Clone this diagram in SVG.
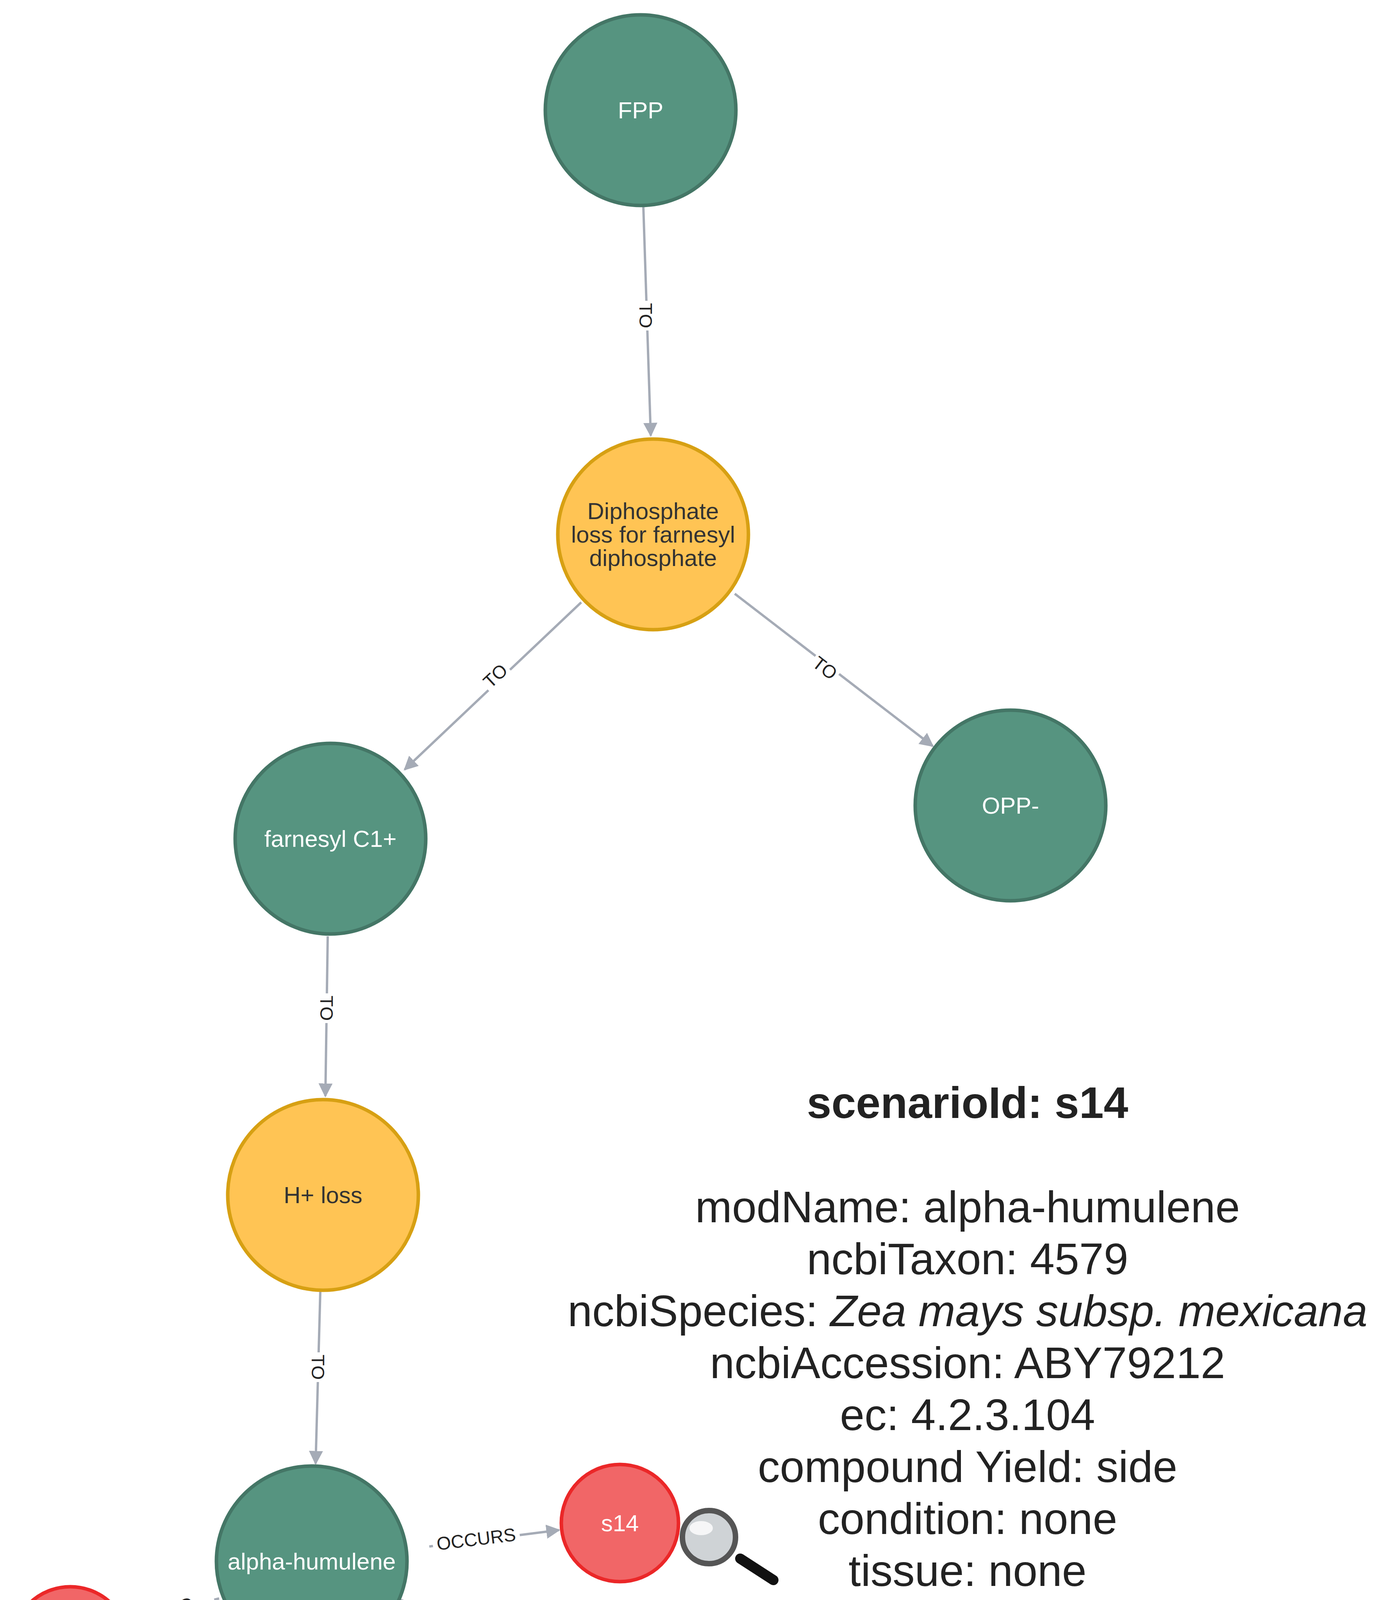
<svg xmlns="http://www.w3.org/2000/svg" width="3515" height="4928" viewBox="0 0 3515 4928">
<defs>
<style>
.g{fill:#569480;stroke:#447666;stroke-width:9}
.y{fill:#ffc454;stroke:#d7a013;stroke-width:9}
.r{fill:#f16667;stroke:#eb2728;stroke-width:9}
.nt{font-family:"Liberation Sans",Arial,sans-serif;font-size:60px;text-anchor:middle;dominant-baseline:central}
.w{fill:#ffffff}
.d{fill:#333333}
.e{stroke:#a5abb6;stroke-width:6;fill:none;marker-end:url(#a)}
.el{font-family:"Liberation Sans",Arial,sans-serif;font-size:47px;text-anchor:middle;dominant-baseline:central;fill:#222}
.lb{fill:#ffffff}
.info{font-family:"Liberation Sans",Arial,sans-serif;font-size:113px;text-anchor:middle;fill:#222}
</style>
<marker id="a" viewBox="0 0 10 10" refX="9" refY="5" markerWidth="6" markerHeight="6" orient="auto" markerUnits="strokeWidth"><path d="M0,0L10,5L0,10z" fill="#a5abb6"/></marker>
</defs>
<rect width="3515" height="4928" fill="#ffffff"/>
<g id="connectors">
<line class="e" x1="1647" y1="529" x2="1666" y2="1115"/>
<g transform="translate(1653,808) rotate(90)"><rect class="lb" x="-38" y="-28" width="76" height="56"/><text class="el">TO</text></g>
<line class="e" x1="1488" y1="1542" x2="1036" y2="1970"/>
<g transform="translate(1268,1730) rotate(-43)"><rect class="lb" x="-38" y="-28" width="76" height="56"/><text class="el">TO</text></g>
<line class="e" x1="1881" y1="1520" x2="2388" y2="1910"/>
<g transform="translate(2112,1710) rotate(38)"><rect class="lb" x="-38" y="-28" width="76" height="56"/><text class="el">TO</text></g>
<line class="e" x1="839" y1="2397" x2="833" y2="2806"/>
<g transform="translate(836,2581) rotate(90)"><rect class="lb" x="-38" y="-28" width="76" height="56"/><text class="el">TO</text></g>
<line class="e" x1="820" y1="3306" x2="808" y2="3747"/>
<g transform="translate(814,3500) rotate(90)"><rect class="lb" x="-38" y="-28" width="76" height="56"/><text class="el">TO</text></g>
<line class="e" x1="1099" y1="3959" x2="1431" y2="3917"/>
<g transform="translate(1219,3940) rotate(-7)"><rect class="lb" x="-112" y="-28" width="224" height="56"/><text class="el">OCCURS</text></g>
<line class="e" x1="1023" y1="4095" x2="1409" y2="4234"/>
<g transform="translate(1197,4155) rotate(20)"><rect class="lb" x="-112" y="-28" width="224" height="56"/><text class="el">OCCURS</text></g>
<line class="e" x1="975" y1="4180" x2="1298" y2="4503"/>
<g transform="translate(1118,4323) rotate(45)"><rect class="lb" x="-112" y="-28" width="224" height="56"/><text class="el">OCCURS</text></g>
<line class="e" x1="887" y1="4234" x2="1029" y2="4624"/>
<g transform="translate(947,4408) rotate(70)"><rect class="lb" x="-112" y="-28" width="224" height="56"/><text class="el">OCCURS</text></g>
<line class="e" x1="770" y1="4244" x2="735" y2="4614"/>
<g transform="translate(749,4402) rotate(-85)"><rect class="lb" x="-112" y="-28" width="224" height="56"/><text class="el">OCCURS</text></g>
<line class="e" x1="656" y1="4203" x2="497" y2="4412"/>
<g transform="translate(586,4291) rotate(-53)"><rect class="lb" x="-112" y="-28" width="224" height="56"/><text class="el">OCCURS</text></g>
<line class="e" x1="561" y1="4092" x2="329" y2="4152"/>
<g transform="translate(465,4112) rotate(-15)"><rect class="lb" x="-85" y="-28" width="170" height="56"/><text class="el">OCC…</text></g>
</g>
<g id="FPP"><circle class="g" cx="1640" cy="282" r="244"/><text class="nt w" x="1640" y="282">FPP</text></g>
<g id="diphosphate"><circle class="y" cx="1672" cy="1368" r="244"/><text class="nt d" x="1672" y="1308">Diphosphate</text><text class="nt d" x="1672" y="1368">loss for farnesyl</text><text class="nt d" x="1672" y="1428">diphosphate</text></g>
<g id="farnesyl"><circle class="g" cx="846" cy="2147" r="244"/><text class="nt w" x="846" y="2147">farnesyl C1+</text></g>
<g id="OPP"><circle class="g" cx="2587" cy="2062" r="244"/><text class="nt w" x="2587" y="2062">OPP-</text></g>
<g id="Hloss"><circle class="y" cx="827" cy="3059" r="244"/><text class="nt d" x="827" y="3059">H+ loss</text></g>
<g id="alpha"><circle class="g" cx="798" cy="3997" r="244"/><text class="nt w" x="798" y="3997">alpha-humulene</text></g>
<g id="s14"><circle class="r" cx="1587" cy="3899" r="150"/><text class="nt w" x="1587" y="3899">s14</text></g>
<g id="s15"><circle class="r" cx="1552" cy="4298" r="150"/><text class="nt w" x="1552" y="4298">s15</text></g>
<g id="s16"><circle class="r" cx="1409" cy="4614" r="150"/><text class="nt w" x="1409" y="4614">s16</text></g>
<g id="s17"><circle class="r" cx="1083" cy="4779" r="150"/><text class="nt w" x="1083" y="4779">s17</text></g>
<g id="s18"><circle class="r" cx="703" cy="4766" r="150"/><text class="nt w" x="703" y="4766">s18</text></g>
<g id="s20"><circle class="r" cx="402" cy="4548" r="150"/><text class="nt w" x="402" y="4548">s20</text></g>
<g id="s21"><circle class="r" cx="180" cy="4212" r="150"/><text class="nt w" x="180" y="4212">s21</text></g>
<g id="magnifier">
<line x1="1895" y1="3990" x2="1980" y2="4045" stroke="#111" stroke-width="26" stroke-linecap="round"/>
<circle cx="1815" cy="3935" r="68" fill="#cfd3d6" stroke="#555" stroke-width="14"/>
<ellipse cx="1795" cy="3912" rx="30" ry="18" fill="#ffffff" opacity="0.8"/>
</g>
<g id="info">
<text class="info" x="2477" y="2862" font-weight="bold">scenarioId: s14</text>
<text class="info" x="2477" y="3129">modName: alpha-humulene</text>
<text class="info" x="2477" y="3262">ncbiTaxon: 4579</text>
<text class="info" x="2477" y="3395">ncbiSpecies: <tspan font-style="italic">Zea mays subsp. mexicana</tspan></text>
<text class="info" x="2477" y="3528">ncbiAccession: ABY79212</text>
<text class="info" x="2477" y="3661">ec: 4.2.3.104</text>
<text class="info" x="2477" y="3794">compound Yield: side</text>
<text class="info" x="2477" y="3927">condition: none</text>
<text class="info" x="2477" y="4060">tissue: none</text>
<text class="info" x="2477" y="4193">experiment: recombinant</text>
<text class="info" x="2477" y="4326">kegg: R08373</text>
<text class="info" x="2477" y="4459">rhea: 31898</text>
<text class="info" x="2477" y="4592">pubmedAccession: 18296628</text>
</g>
</svg>
